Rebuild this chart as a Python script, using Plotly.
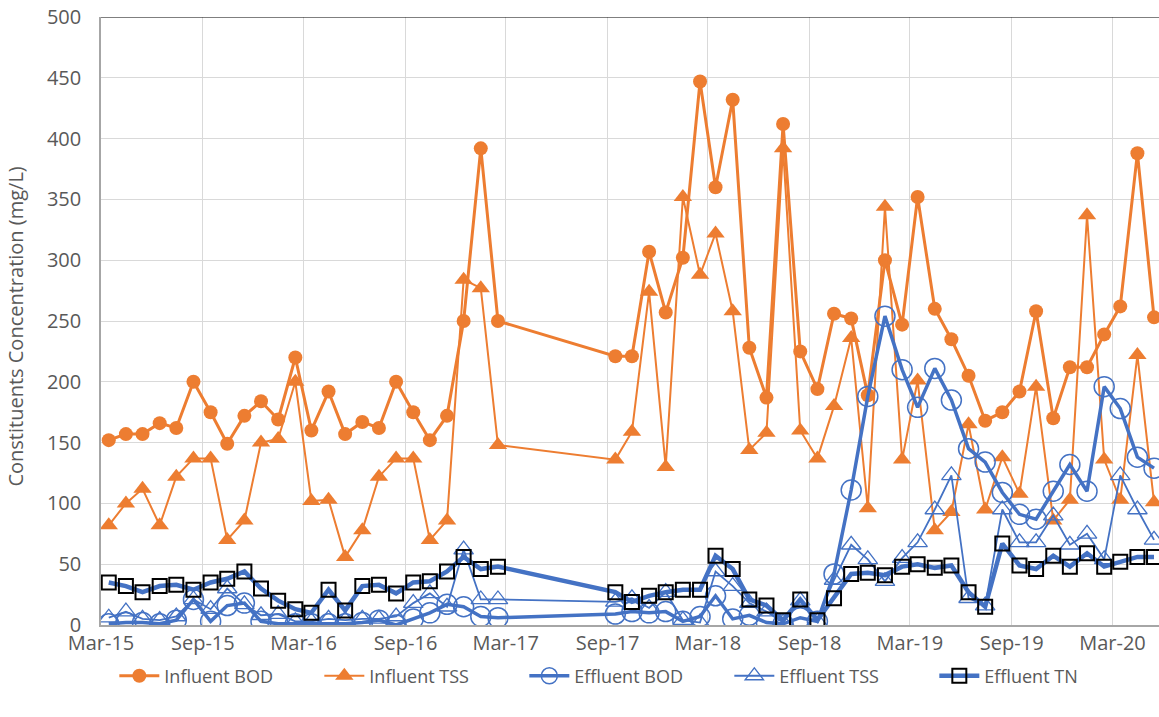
import plotly.graph_objects as go

# ---------------- data ----------------
dates = [
    "2015-03-15", "2015-04-15", "2015-05-15", "2015-06-15", "2015-07-15", "2015-08-15",
    "2015-09-15", "2015-10-15", "2015-11-15", "2015-12-15", "2016-01-15", "2016-02-15",
    "2016-03-15", "2016-04-15", "2016-05-15", "2016-06-15", "2016-07-15", "2016-08-15",
    "2016-09-15", "2016-10-15", "2016-11-15", "2016-12-15", "2017-01-15", "2017-02-15",
    "2017-09-15", "2017-10-15", "2017-11-15", "2017-12-15", "2018-01-15", "2018-02-15",
    "2018-03-15", "2018-04-15", "2018-05-15", "2018-06-15", "2018-07-15", "2018-08-15",
    "2018-09-15", "2018-10-15", "2018-11-15", "2018-12-15", "2019-01-15", "2019-02-15",
    "2019-03-15", "2019-04-15", "2019-05-15", "2019-06-15", "2019-07-15", "2019-08-15",
    "2019-09-15", "2019-10-15", "2019-11-15", "2019-12-15", "2020-01-15", "2020-02-15",
    "2020-03-15", "2020-04-15", "2020-05-15",
]

influent_bod = [152, 157, 157, 166, 162, 200, 175, 149, 172, 184, 169, 220,
                160, 192, 157, 167, 162, 200, 175, 152, 172, 250, 392, 250,
                221, 221, 307, 257, 302, 447, 360, 432, 228, 187, 412, 225,
                194, 256, 252, 189, 300, 247, 352, 260, 235, 205, 168, 175,
                192, 258, 170, 212, 212, 239, 262, 388, 253]

influent_tss = [82, 100, 112, 82, 122, 137, 137, 70, 86, 150, 153, 200,
                102, 103, 56, 78, 122, 137, 137, 70, 86, 284, 277, 148,
                136, 159, 274, 130, 352, 288, 322, 258, 144, 158, 392, 160,
                137, 180, 236, 96, 344, 136, 201, 78, 93, 165, 95, 138,
                108, 196, 86, 103, 337, 136, 103, 222, 101]

effluent_bod = [1, 2, 2, 1, 4, 21, 3, 16, 18, 3, 1, 1,
                1, 1, 1, 2, 4, 0, 5, 10, 17, 15, 7, 6,
                9, 11, 10, 11, 3, 7, 24, 5, 8, 2, 1, 6,
                3, 42, 111, 188, 254, 210, 179, 211, 185, 145, 134, 109,
                91, 87, 110, 132, 110, 196, 178, 138, 129]

effluent_tss = [6, 11, 5, 4, 7, 21, 13, 30, 17, 8, 9, 3,
                3, 5, 4, 5, 5, 7, 18, 26, 15, 62, 21, 21,
                19, 22, 14, 27, 4, 2, 44, 32, 18, 11, 2, 20,
                3, 37, 66, 54, 36, 55, 68, 95, 123, 22, 16, 95,
                68, 68, 90, 66, 75, 54, 123, 95, 70]

effluent_tn = [35, 32, 27, 32, 33, 29, 35, 38, 44, 30, 20, 13,
               10, 29, 12, 32, 33, 26, 35, 36, 44, 56, 46, 48,
               27, 19, 24, 27, 29, 29, 57, 46, 21, 16, 4, 21,
               4, 22, 42, 43, 41, 48, 50, 47, 49, 27, 15, 67,
               49, 46, 57, 48, 59, 48, 52, 56, 56]

tick_dates = ["2015-03-01", "2015-09-01", "2016-03-01", "2016-09-01", "2017-03-01",
              "2017-09-01", "2018-03-01", "2018-09-01", "2019-03-01", "2019-09-01",
              "2020-03-01"]
tick_labels = ["Mar-15", "Sep-15", "Mar-16", "Sep-16", "Mar-17", "Sep-17",
               "Mar-18", "Sep-18", "Mar-19", "Sep-19", "Mar-20"]

ORANGE = "#ED7D31"
BLUE = "#4472C4"
FONT = "Open Sans"
TXT = "#595959"

fig = go.Figure()
fig.add_trace(go.Scatter(x=dates, y=influent_bod, name="Influent BOD", mode="lines+markers",
                         line=dict(color=ORANGE, width=3),
                         marker=dict(symbol="circle", size=14, color=ORANGE)))
fig.add_trace(go.Scatter(x=dates, y=influent_tss, name="Influent TSS", mode="lines+markers",
                         line=dict(color=ORANGE, width=2),
                         marker=dict(symbol="triangle-up", size=16, color=ORANGE)))
fig.add_trace(go.Scatter(x=dates, y=effluent_bod, name="Effluent BOD", mode="lines+markers",
                         line=dict(color=BLUE, width=3.5),
                         marker=dict(symbol="circle-open", size=20, color=BLUE,
                                     line=dict(width=1.5, color=BLUE))))
fig.add_trace(go.Scatter(x=dates, y=effluent_tss, name="Effluent TSS", mode="lines+markers",
                         line=dict(color=BLUE, width=1.8),
                         marker=dict(symbol="triangle-up-open", size=17, color=BLUE,
                                     line=dict(width=1.3, color=BLUE))))
fig.add_trace(go.Scatter(x=dates, y=effluent_tn, name="Effluent TN", mode="lines+markers",
                         line=dict(color=BLUE, width=4.5),
                         marker=dict(symbol="square-open", size=14, color="#000000",
                                     line=dict(width=2, color="#000000"))))

fig.update_layout(
    width=1159, height=717,
    margin=dict(l=101, r=0, t=17, b=92, autoexpand=False),
    paper_bgcolor="white", plot_bgcolor="white",
    font=dict(family=FONT, size=19, color=TXT),
    showlegend=True,
    legend=dict(orientation="h", x=0.497, xanchor="center", y=-0.084, yanchor="middle",
                font=dict(family=FONT, size=18, color=TXT), entrywidth=150,
                itemwidth=40, bgcolor="rgba(0,0,0,0)"),
    xaxis=dict(type="date", range=["2015-03-01", "2020-05-24"],
               tickvals=tick_dates, ticktext=tick_labels, automargin=False,
               showgrid=True, gridcolor="#D9D9D9", gridwidth=1.3,
               showline=True, linecolor="#A6A6A6", linewidth=1.5,
               ticks="", ticklabelstandoff=-1, ticklabeloverflow="allow",
               tickfont=dict(family=FONT, size=20, color=TXT), zeroline=False),
    yaxis=dict(range=[0, 500], dtick=50, tick0=0, automargin=False,
               showgrid=True, gridcolor="#D9D9D9", gridwidth=1.3,
               showline=True, linecolor="#A6A6A6", linewidth=1.5,
               ticks="", ticklabelstandoff=14, ticklabeloverflow="allow",
               tickfont=dict(family=FONT, size=20, color=TXT), zeroline=False),
    annotations=[dict(text="Constituents Concentration (mg/L)", textangle=-90,
                      xref="paper", yref="paper", x=-101 / 1058, y=0.49,
                      xanchor="left", yanchor="middle", showarrow=False,
                      font=dict(family=FONT, size=20, color=TXT))],
    shapes=[dict(type="line", xref="paper", yref="y", x0=0, x1=1, y0=500, y1=500,
                 line=dict(color="#000000", width=1.2))],
)

# remove the page's default body margin so the figure sits at the window's corner
fig.write_html("out.html",
               config={"displayModeBar": False},
               post_script="document.body.style.margin='0';document.body.style.overflow='hidden';")
